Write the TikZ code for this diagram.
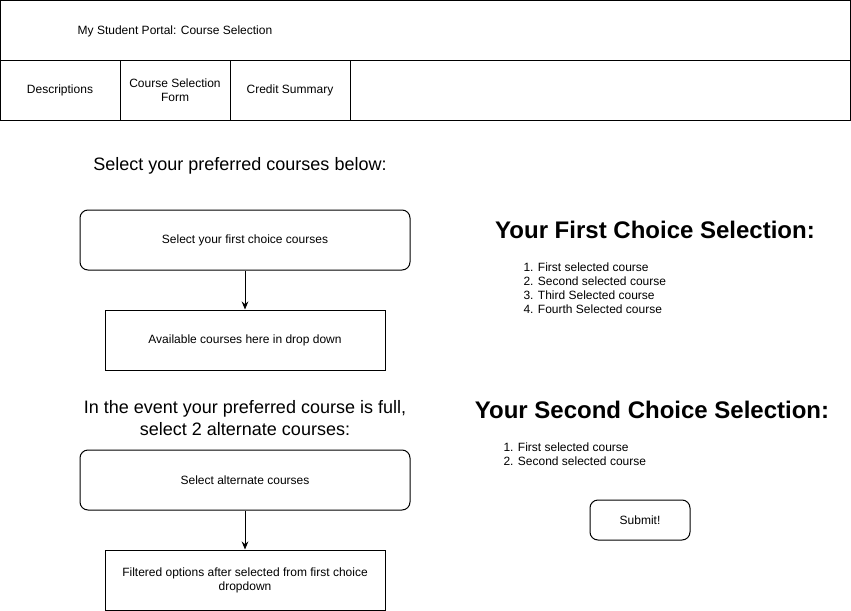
\documentclass[tikz,border=0pt]{standalone}
\usepackage{fontspec}
\setmainfont{Liberation Sans}
\usetikzlibrary{arrows.meta,positioning}

\begin{document}
\begin{tikzpicture}[x=0.75pt, y=-0.75pt, line width=0.75pt,
  box/.style = {draw, rectangle, inner sep=0pt, align=center, font=\fontsize{9}{10.5}\selectfont},
  rbox/.style = {box, rounded corners=6pt},
  heading/.style = {font=\fontsize{13.5}{16}\selectfont, align=center},
  bighead/.style = {font=\fontsize{18}{21}\selectfont\bfseries},
  listing/.style = {align=left, anchor=west, inner sep=0pt, font=\fontsize{9}{10.5}\selectfont}]
\useasboundingbox (0,0) rectangle (851,611);
% header and tabs
\node[box, minimum width=637.5pt, minimum height=45pt] (header) at (425,30) {};
\node[font=\fontsize{9}{10.5}\selectfont] (title) at (175,31) {My Student Portal: Course Selection};
\node[box, minimum width=90pt, minimum height=45pt] (desc) at (60,90) {Descriptions};
\node[box, minimum width=82.5pt, minimum height=45pt] (form) at (175,90) {Course Selection\\Form};
\node[box, minimum width=90pt, minimum height=45pt] (credit) at (290,90) {Credit Summary};
\node[box, minimum width=375pt, minimum height=45pt] (blank) at (600,90) {};
% left column
\node[heading] (intro) at (240,166) {Select your preferred courses below:};
\node[rbox, minimum width=247.5pt, minimum height=45pt] (first) at (245,240) {Select your first choice courses};
\node[box, minimum width=210pt, minimum height=45pt] (avail) at (245,340) {Available courses here in drop down};
\node[heading] (event) at (245,418) {In the event your preferred course is full,\\select 2 alternate courses:};
\node[rbox, minimum width=247.5pt, minimum height=45pt] (alt) at (245,480) {Select alternate courses};
\node[box, minimum width=210pt, minimum height=45pt] (filtered) at (245,580) {Filtered options after selected from first choice\\dropdown};
\draw[-{Stealth[length=6pt,width=5pt]}] (first) -- (avail);
\draw[-{Stealth[length=6pt,width=5pt]}] (alt) -- (filtered);
% right column
\node[bighead] (firsthead) at (655,230) {Your First Choice Selection:};
\node[listing] (firstlist) at (523,288) {1. First selected course\\2. Second selected course\\3. Third Selected course\\4. Fourth Selected course};
\node[bighead] (secondhead) at (652,410) {Your Second Choice Selection:};
\node[listing] (secondlist) at (503,454) {1. First selected course\\2. Second selected course};
\node[rbox, minimum width=75pt, minimum height=30pt] (submit) at (640,520) {Submit!};
\end{tikzpicture}
\end{document}
